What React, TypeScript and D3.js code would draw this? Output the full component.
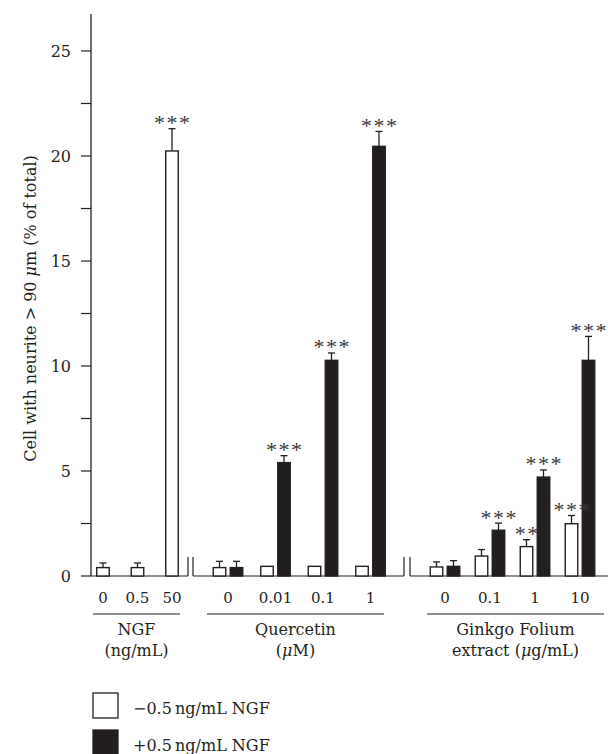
import * as d3 from 'd3';

// NGF alone (no NGF co-treatment)
const ngfDoses = ['0', '0.5', '50'];
const ngfMinus = [0.4, 0.4, 20.24];
const ngfMinusErr = [0.22, 0.22, 1.06];
const ngfMinusSig = ['', '', '***'];

// Quercetin (uM)
const querDoses = ['0', '0.01', '0.1', '1'];
const querMinus = [0.4, 0.46, 0.46, 0.46];
const querMinusErr = [0.3, 0, 0, 0];
const querMinusSig = ['', '', '', ''];
const querPlus = [0.4, 5.4, 10.27, 20.46];
const querPlusErr = [0.3, 0.33, 0.35, 0.71];
const querPlusSig = ['', '***', '***', '***'];

// Ginkgo Folium extract (ug/mL)
const ginkDoses = ['0', '0.1', '1', '10'];
const ginkMinus = [0.43, 0.95, 1.4, 2.49];
const ginkMinusErr = [0.24, 0.31, 0.33, 0.39];
const ginkMinusSig = ['', '', '**', '***'];
const ginkPlus = [0.46, 2.18, 4.71, 10.27];
const ginkPlusErr = [0.27, 0.34, 0.34, 1.14];
const ginkPlusSig = ['', '***', '***', '***'];

const yTicks = [0, 5, 10, 15, 20, 25];
const yMinorTicks = [2.5, 7.5, 12.5, 17.5, 22.5];

const seriesNames = ['minus', 'plus'];
const legendLabels = ['\u22120.5\u2009ng/mL NGF', '+0.5\u2009ng/mL NGF'];

const width = 608;
const height = 754;
const ink = '#231f20';
const font = "'DejaVu Serif', 'Liberation Serif', serif";

const axisX = 91;
const y0 = 576;
const yTop = 14;

const yScale = d3.scaleLinear().domain([0, 25]).range([y0, y0 - 525]);

const groups = [
  {
    doses: ngfDoses,
    series: [{ key: 'minus', values: ngfMinus, err: ngfMinusErr, sig: ngfMinusSig }],
    range: [85.75, 189.25],
    base: [axisX, 188],
    under: [93, 180],
    title: ['NGF', '(ng/mL)'],
  },
  {
    doses: querDoses,
    series: [
      { key: 'minus', values: querMinus, err: querMinusErr, sig: querMinusSig },
      { key: 'plus', values: querPlus, err: querPlusErr, sig: querPlusSig },
    ],
    range: [204.25, 394.25],
    base: [193, 404],
    under: [207, 384],
    title: ['Quercetin', '(\u03bcM)'],
  },
  {
    doses: ginkDoses,
    series: [
      { key: 'minus', values: ginkMinus, err: ginkMinusErr, sig: ginkMinusSig },
      { key: 'plus', values: ginkPlus, err: ginkPlusErr, sig: ginkPlusSig },
    ],
    range: [422.5, 602.5],
    base: [410, 608],
    under: [427, 604],
    title: ['Ginkgo Folium', 'extract (\u03bcg/mL)'],
  },
];

const pairScale = d3.scaleBand().domain(seriesNames).range([-14.75, 14.75]).paddingInner(0.265);
const barW = pairScale.bandwidth();

function withMu(s: string) {
  if (!s.includes('\u03bc')) return s;
  const [a, b] = s.split('\u03bc');
  return (
    <>
      {a}
      <tspan fontStyle="italic">{'\u03bc'}</tspan>
      {b}
    </>
  );
}

// flatten every bar so the stars can go on top of all bars
const bars = groups.flatMap((g, gi) => {
  const x = d3.scaleBand().domain(g.doses).range(g.range as [number, number]).padding(0);
  return g.doses.flatMap((d, i) => {
    const cx = (x(d) as number) + x.bandwidth() / 2;
    return g.series.map(s => ({
      id: `${gi}-${d}-${s.key}`,
      key: s.key,
      x: g.series.length === 1 ? cx - barW / 2 : cx + (pairScale(s.key) as number),
      value: s.values[i],
      err: s.err[i],
      sig: s.sig[i],
    }));
  });
});

function App() {
  return (
    <svg width={width} height={height} style={{ position: 'absolute', left: 0, top: 0, background: '#fff' }} fontFamily={font}>
      {/* y axis */}
      <line x1={axisX} x2={axisX} y1={yTop} y2={y0} stroke={ink} strokeWidth={1.3} />
      {yTicks.map(t => (
        <g key={t} transform={`translate(0,${yScale(t)})`}>
          <line x1={axisX - 10} x2={axisX} stroke={ink} strokeWidth={1.2} />
          <text x={71} dy=".35em" textAnchor="end" fontSize={16} fill={ink}>{t}</text>
        </g>
      ))}
      {yMinorTicks.map(t => (
        <line key={t} x1={axisX - 10} x2={axisX} y1={yScale(t)} y2={yScale(t)} stroke={ink} strokeWidth={1.2} />
      ))}
      <text
        transform={`translate(36,${(yScale(0) + yScale(25)) / 2 - 5}) rotate(-90)`}
        textAnchor="middle"
        fontSize={16}
        fill={ink}
      >
        {withMu('Cell with neurite > 90 \u03bcm (% of total)')}
      </text>

      {groups.map((g, gi) => {
        const x = d3.scaleBand().domain(g.doses).range(g.range as [number, number]).padding(0);
        const mid = (g.under[0] + g.under[1]) / 2;
        return (
          <g key={gi}>
            <line x1={g.base[0]} x2={g.base[1]} y1={y0} y2={y0} stroke={ink} strokeWidth={1.2} />
            {gi > 0 && <line x1={g.base[0]} x2={g.base[0]} y1={y0 - 19} y2={y0} stroke={ink} strokeWidth={1.2} />}
            {gi < groups.length - 1 && <line x1={g.base[1]} x2={g.base[1]} y1={y0 - 19} y2={y0} stroke={ink} strokeWidth={1.2} />}
            {g.doses.map(d => (
              <text key={d} x={(x(d) as number) + x.bandwidth() / 2} y={603} textAnchor="middle" fontSize={15} fill={ink}>{d}</text>
            ))}
            <line x1={g.under[0]} x2={g.under[1]} y1={614} y2={614} stroke={ink} strokeWidth={1.2} />
            <text x={mid} y={635} textAnchor="middle" fontSize={16} fill={ink}>{g.title[0]}</text>
            <text x={mid} y={656} textAnchor="middle" fontSize={16} fill={ink}>{withMu(g.title[1])}</text>
          </g>
        );
      })}

      {bars.map(b => {
        const top = yScale(b.value);
        const errTop = yScale(b.value + b.err);
        const cx = b.x + barW / 2;
        return (
          <g key={b.id}>
            {b.err > 0 && (
              <>
                <line x1={cx} x2={cx} y1={top} y2={errTop} stroke={ink} strokeWidth={1.3} />
                <line x1={cx - 3.5} x2={cx + 3.5} y1={errTop} y2={errTop} stroke={ink} strokeWidth={1.3} />
              </>
            )}
            <rect
              x={b.x}
              y={top}
              width={barW}
              height={y0 - top}
              fill={b.key === 'plus' ? ink : '#fff'}
              stroke={ink}
              strokeWidth={1.4}
            />
          </g>
        );
      })}

      {bars.filter(b => b.sig).map(b => (
        <text
          key={b.id}
          x={b.x + barW / 2}
          y={yScale(b.value + b.err) + 1.5}
          dx={0.75}
          textAnchor="middle"
          fontSize={22}
          letterSpacing={1.5}
          fontFamily="'Liberation Serif', serif"
          fill="#3a3a3a"
        >
          {b.sig}
        </text>
      ))}

      {/* legend */}
      {seriesNames.map((s, i) => (
        <g key={s} transform={`translate(93,${693 + i * 37})`}>
          <rect width={25} height={25} fill={s === 'plus' ? ink : '#fff'} stroke={ink} strokeWidth={1.3} />
          <text x={40} y={21} fontSize={16} fill={ink}>{legendLabels[i]}</text>
        </g>
      ))}
    </svg>
  );
}

export default App;
